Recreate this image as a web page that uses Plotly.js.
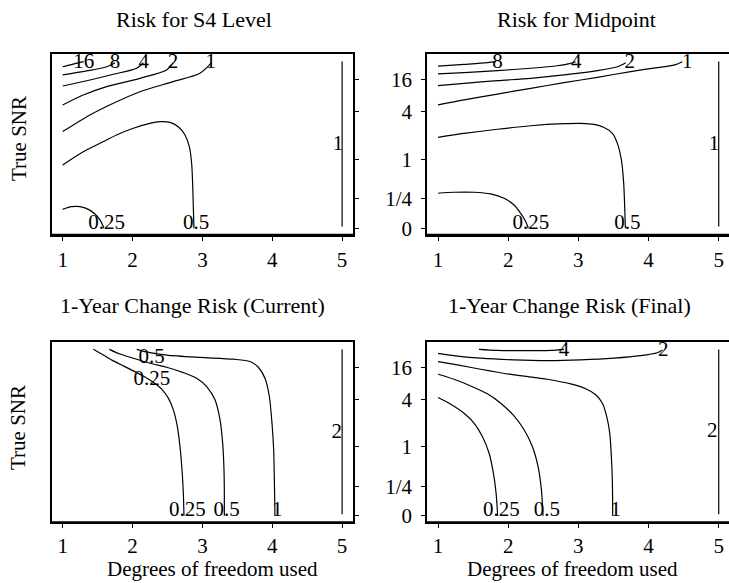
<!DOCTYPE html>
<html>
<head>
<meta charset="utf-8">
<script src="https://cdn.plot.ly/plotly-3.0.1.min.js"></script>
<style>html,body{margin:0;padding:0;background:#fff;}#chart{width:729px;height:583px;}</style>
</head>
<body>
<div id="chart"></div>
<script>
// ---------- axes ----------
const dfTicks = [1, 2, 3, 4, 5];
const snrTickVals = [0, 0.177, 0.412, 0.696, 0.889];
const snrTickText = ['0', '1/4', '1', '4', '16'];

// ---------- Panel 1: Risk for S4 Level ----------
const s4Levels = ['16', '8', '4', '2', '1', '0.5', '0.25', '1'];
const s4CurveX = [
  [1.0, 1.15, 1.30],
  [1.0, 1.343, 1.629, 1.749],
  [1.0, 1.391, 1.725, 2.059, 2.154],
  [1.0, 1.295, 1.629, 2.106, 2.488, 2.583],
  [1.0, 1.391, 1.725, 2.106, 2.583, 2.965, 3.132],
  [1.0, 1.295, 1.534, 1.772, 2.011, 2.249, 2.393, 2.536, 2.655, 2.751, 2.813, 2.846, 2.860, 2.870, 2.879],
  [1.0, 1.128, 1.248, 1.367, 1.462, 1.534, 1.591],
  [5, 5]
];
const s4CurveY = [
  [0.964, 0.980, 0.994],
  [0.915, 0.939, 0.964, 0.988],
  [0.849, 0.885, 0.919, 0.955, 0.988],
  [0.736, 0.795, 0.845, 0.895, 0.945, 0.988],
  [0.577, 0.676, 0.746, 0.815, 0.875, 0.925, 0.988],
  [0.378, 0.457, 0.507, 0.557, 0.597, 0.626, 0.636, 0.632, 0.606, 0.557, 0.487, 0.388, 0.268, 0.129, 0.0],
  [0.113, 0.129, 0.129, 0.113, 0.085, 0.050, 0.0],
  [0.995, 0.01]
];
const s4LabelText = ['16', '8', '4', '2', '1', '0.25', '0.5', '1'];
const s4LabelX = [1.30, 1.75, 2.16, 2.58, 3.12, 1.63, 2.91, 4.94];
const s4LabelY = [0.985, 0.985, 0.985, 0.985, 0.985, 0.03, 0.03, 0.5];

// ---------- Panel 2: Risk for Midpoint ----------
const midLevels = ['8', '4', '2', '1', '0.5', '0.25', '1'];
const midCurveX = [
  [1.0, 1.371, 1.703, 1.822],
  [1.0, 1.371, 1.846, 2.321, 2.701, 2.891, 2.962],
  [1.0, 1.371, 1.846, 2.321, 2.796, 3.271, 3.556, 3.675],
  [1.0, 1.371, 1.846, 2.321, 2.796, 3.271, 3.746, 4.126, 4.363, 4.482],
  [1.0, 1.371, 1.846, 2.321, 2.796, 3.033, 3.223, 3.366, 3.485, 3.556, 3.613, 3.646, 3.660, 3.670],
  [1.0, 1.228, 1.513, 1.751, 1.941, 2.083, 2.178, 2.249, 2.287],
  [5, 5]
];
const midCurveY = [
  [0.968, 0.978, 0.988, 0.994],
  [0.921, 0.929, 0.941, 0.955, 0.970, 0.984, 0.994],
  [0.851, 0.865, 0.881, 0.895, 0.915, 0.941, 0.964, 0.988],
  [0.736, 0.766, 0.801, 0.835, 0.869, 0.901, 0.935, 0.959, 0.974, 0.994],
  [0.543, 0.566, 0.591, 0.612, 0.624, 0.626, 0.620, 0.601, 0.567, 0.507, 0.408, 0.268, 0.129, 0.0],
  [0.209, 0.215, 0.215, 0.205, 0.179, 0.139, 0.089, 0.040, 0.0],
  [0.995, 0.01]
];
const midLabelText = ['8', '4', '2', '1', '0.25', '0.5', '1'];
const midLabelX = [1.846, 2.971, 3.732, 4.553, 2.325, 3.698, 4.933];
const midLabelY = [0.985, 0.985, 0.985, 0.985, 0.03, 0.03, 0.5];

// ---------- Panel 3: 1-Year Change Risk (Current) ----------
const curLevels = ['0.25', '0.5', '1', '2'];
const curCurveX = [
  [1.439, 1.582, 1.725, 1.868, 2.011, 2.154, 2.297, 2.417, 2.512, 2.584, 2.641, 2.679, 2.708, 2.727, 2.736],
  [1.668, 1.820, 2.011, 2.250, 2.488, 2.727, 2.918, 3.061, 3.180, 3.252, 3.290, 3.309, 3.314, 3.314],
  [2.059, 2.250, 2.488, 2.965, 3.443, 3.681, 3.800, 3.896, 3.958, 3.996, 4.020, 4.029, 4.034, 4.039],
  [5, 5]
];
const curCurveY = [
  [0.996, 0.962, 0.927, 0.897, 0.867, 0.837, 0.799, 0.758, 0.704, 0.634, 0.535, 0.415, 0.276, 0.137, 0.0],
  [0.996, 0.968, 0.943, 0.913, 0.889, 0.857, 0.823, 0.773, 0.694, 0.575, 0.435, 0.276, 0.137, 0.0],
  [0.996, 0.976, 0.962, 0.948, 0.937, 0.923, 0.889, 0.823, 0.714, 0.555, 0.396, 0.236, 0.117, 0.0],
  [0.995, 0.01]
];
const curLabelText = ['0.5', '0.25', '0.25', '0.5', '1', '2'];
const curLabelX = [2.274, 2.278, 2.784, 3.347, 4.072, 4.922];
const curLabelY = [0.948, 0.815, 0.03, 0.03, 0.03, 0.495];

// ---------- Panel 4: 1-Year Change Risk (Final) ----------
const finLevels = ['4', '2', '1', '0.5', '0.25', '2'];
const finCurveX = [
  [1.584, 1.846, 2.226, 2.606, 2.796],
  [1.0, 1.276, 1.608, 2.083, 2.558, 3.033, 3.508, 3.888, 4.126, 4.197],
  [1.0, 1.276, 1.608, 2.083, 2.558, 2.891, 3.105, 3.247, 3.342, 3.404, 3.447, 3.470, 3.485, 3.489],
  [1.0, 1.228, 1.466, 1.703, 1.893, 2.083, 2.226, 2.344, 2.425, 2.473, 2.496],
  [1.0, 1.181, 1.371, 1.513, 1.632, 1.727, 1.789, 1.827, 1.850],
  [5, 5]
];
const finCurveY = [
  [0.996, 0.990, 0.988, 0.990, 0.996],
  [0.972, 0.956, 0.943, 0.933, 0.929, 0.933, 0.943, 0.958, 0.976, 0.992],
  [0.923, 0.903, 0.877, 0.843, 0.817, 0.789, 0.760, 0.724, 0.674, 0.594, 0.495, 0.356, 0.197, 0.0],
  [0.847, 0.817, 0.777, 0.730, 0.674, 0.598, 0.515, 0.415, 0.296, 0.157, 0.0],
  [0.708, 0.668, 0.614, 0.555, 0.475, 0.376, 0.256, 0.137, 0.0],
  [0.995, 0.01]
];
const finLabelText = ['4', '2', '0.25', '0.5', '1', '2'];
const finLabelX = [2.796, 4.209, 1.903, 2.553, 3.532, 4.909];
const finLabelY = [0.99, 0.99, 0.03, 0.03, 0.03, 0.505];

// ---------- build ----------
const FONT = 'Liberation Serif, Times New Roman, serif';
const FS = 21;
const panels = [
  {s: '', cx: s4CurveX, cy: s4CurveY, lt: s4LabelText, lx: s4LabelX, ly: s4LabelY},
  {s: '2', cx: midCurveX, cy: midCurveY, lt: midLabelText, lx: midLabelX, ly: midLabelY},
  {s: '3', cx: curCurveX, cy: curCurveY, lt: curLabelText, lx: curLabelX, ly: curLabelY},
  {s: '4', cx: finCurveX, cy: finCurveY, lt: finLabelText, lx: finLabelX, ly: finLabelY}
];
const traces = [];
panels.forEach(p => {
  p.cx.forEach((xs, i) => {
    traces.push({
      x: xs, y: p.cy[i], type: 'scatter', mode: 'lines',
      line: {color: '#000', width: 1.2, shape: 'spline', smoothing: 0.8},
      xaxis: 'x' + p.s, yaxis: 'y' + p.s, hoverinfo: 'skip'
    });
  });
  traces.push({
    x: p.lx, y: p.ly, text: p.lt, type: 'scatter', mode: 'text',
    textposition: 'middle center',
    textfont: {family: FONT, size: FS, color: '#000'},
    xaxis: 'x' + p.s, yaxis: 'y' + p.s, hoverinfo: 'skip'
  });
});

const W = 729, H = 583;
const px = v => v / W, py = v => 1 - v / H;
const leftDom = [px(51.5), px(353.3)];
const rightDom = [px(426.8), 1];
const topDom = [py(235), py(54)];
const botDom = [py(522.5), py(342)];

function xax(dom, anchor, rng, standoff) {
  return {
    domain: dom, anchor: anchor, range: rng, tickvals: dfTicks, ticktext: dfTicks.map(String),
    ticks: 'outside', ticklen: 4, tickwidth: 1, tickcolor: '#000', ticklabelstandoff: standoff,
    showline: true, mirror: true, linewidth: 1.6, linecolor: '#000',
    showgrid: false, zeroline: false, fixedrange: true,
    tickfont: {family: FONT, size: FS, color: '#000'}
  };
}
function yax(dom, anchor, side, labels) {
  return {
    domain: dom, anchor: anchor, range: [-0.04, 1.04], side: side,
    tickvals: snrTickVals, ticktext: snrTickText, showticklabels: labels,
    ticks: 'outside', ticklen: 4, tickwidth: 1, tickcolor: '#000', ticklabelstandoff: 5,
    showline: true, mirror: side === 'right', linewidth: 1.6, linecolor: '#000',
    showgrid: false, zeroline: false, fixedrange: true,
    tickfont: {family: FONT, size: FS, color: '#000'}
  };
}
const rightRange = [0.84, 0.84 + (W - 426.8) / 70.17];

const ann = (text, x, y, size, extra) => Object.assign({
  text: text, x: x, y: y, xref: 'paper', yref: 'paper', showarrow: false,
  xanchor: 'center', yanchor: 'middle', font: {family: FONT, size: size, color: '#000'}
}, extra || {});

const layout = {
  width: W, height: H, margin: {l: 0, r: 0, t: 0, b: 0},
  paper_bgcolor: '#fff', plot_bgcolor: '#fff', showlegend: false,
  xaxis: xax(leftDom, 'y', [0.84, 5.16], 1),
  yaxis: yax(topDom, 'x', 'right', false),
  xaxis2: xax(rightDom, 'y2', rightRange, 1),
  yaxis2: yax(topDom, 'x2', 'left', true),
  xaxis3: xax(leftDom, 'y3', [0.84, 5.16], 0),
  yaxis3: yax(botDom, 'x3', 'right', false),
  xaxis4: xax(rightDom, 'y4', rightRange, 0),
  yaxis4: yax(botDom, 'x4', 'left', true),
  shapes: ['', '2', '3', '4'].map(s => ({
    type: 'line', xref: 'x' + s + ' domain', yref: 'y' + s + ' domain',
    x0: 0, x1: 1, y0: 0, y1: 0, line: {color: '#000', width: 2.6}
  })),
  annotations: [
    ann('Risk for S4 Level', px(194), py(19), 22),
    ann('Risk for Midpoint', px(576), py(19), 22),
    ann('1-Year Change Risk (Current)', px(192.5), py(305), 22),
    ann('1-Year Change Risk (Final)', px(569.5), py(305), 22),
    ann('True SNR', px(19), py(139), 21, {textangle: -90}),
    ann('True SNR', px(18), py(428), 21, {textangle: -90}),
    ann('Degrees of freedom used', px(212.5), 0, 21, {yanchor: 'bottom'}),
    ann('Degrees of freedom used', px(572.3), 0, 21, {yanchor: 'bottom'})
  ]
};

Plotly.newPlot('chart', traces, layout, {displayModeBar: false, staticPlot: true});
</script>
</body>
</html>
